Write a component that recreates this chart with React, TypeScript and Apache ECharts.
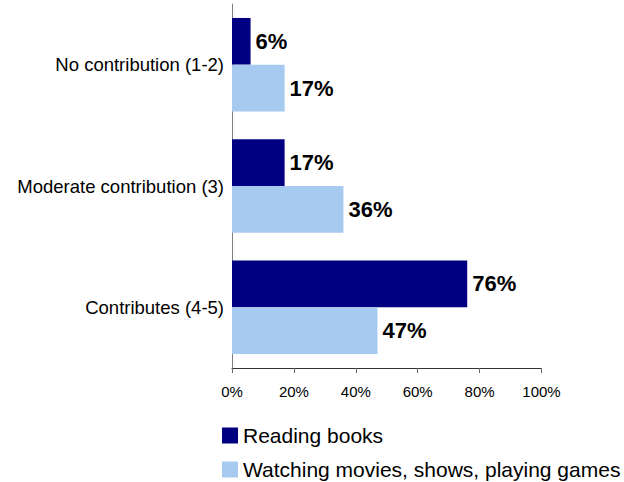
import React, { useEffect, useRef } from "react";
import * as echarts from "echarts";

const categories = ["No contribution (1-2)", "Moderate contribution (3)", "Contributes (4-5)"];
const readingBooks = [6, 17, 76];
const watchingMovies = [17, 36, 47];
const seriesNames = ["Reading books", "Watching movies, shows, playing games"];
const xTicks = [0, 20, 40, 60, 80, 100];

const FONT = "'Liberation Sans', Arial, Helvetica, sans-serif";

export default function App() {
  const ref = useRef<HTMLDivElement>(null);
  useEffect(() => {
    if (!ref.current) return;
    const chart = echarts.init(ref.current, null, { renderer: "svg" });
    const labelCfg = {
      show: true,
      position: "right",
      distance: 5,
      formatter: "{c}%",
      fontFamily: FONT,
      fontWeight: "bold",
      fontSize: 22,
      color: "#000000",
    };
    const legendBase = {
      orient: "vertical",
      left: 222,
      padding: 0,
      itemWidth: 16,
      itemHeight: 16,
      itemGap: 6,
      icon: "rect",
      textStyle: { fontFamily: FONT, fontSize: 21, color: "#000000" },
    };
    chart.setOption({
      animation: false,
      backgroundColor: "#ffffff",
      textStyle: { fontFamily: FONT },
      grid: { left: 232, right: 82.5, top: 4, bottom: 114, containLabel: false },
      legend: [
        { ...legendBase, top: 425, data: [seriesNames[0]] },
        { ...legendBase, top: 459, data: [seriesNames[1]] },
      ],
      xAxis: {
        type: "value",
        min: xTicks[0],
        max: xTicks[xTicks.length - 1],
        interval: 20,
        splitLine: { show: false },
        axisLine: { show: true, lineStyle: { color: "#333333", width: 1 } },
        axisTick: { show: true, length: 5, lineStyle: { color: "#666666" } },
        axisLabel: {
          formatter: "{value}%",
          fontFamily: FONT,
          fontSize: 15,
          color: "#000000",
          margin: 16,
        },
      },
      yAxis: {
        type: "category",
        data: categories,
        inverse: true,
        axisLine: { show: true, lineStyle: { color: "#808080", width: 1 } },
        axisTick: { show: false },
        axisLabel: { fontFamily: FONT, fontSize: 18.5, color: "#000000", margin: 8 },
      },
      series: [
        {
          name: seriesNames[0],
          type: "bar",
          data: readingBooks,
          barGap: "0%",
          barCategoryGap: "23%",
          itemStyle: { color: "#000080" },
          label: labelCfg,
        },
        {
          name: seriesNames[1],
          type: "bar",
          data: watchingMovies,
          barGap: "0%",
          barCategoryGap: "23%",
          itemStyle: { color: "#A6CAF0" },
          label: labelCfg,
        },
      ],
    });
    return () => chart.dispose();
  }, []);
  return (
    <div
      ref={ref}
      style={{ position: "fixed", left: 0, top: 0, width: 624, height: 482, background: "#ffffff" }}
    />
  );
}
